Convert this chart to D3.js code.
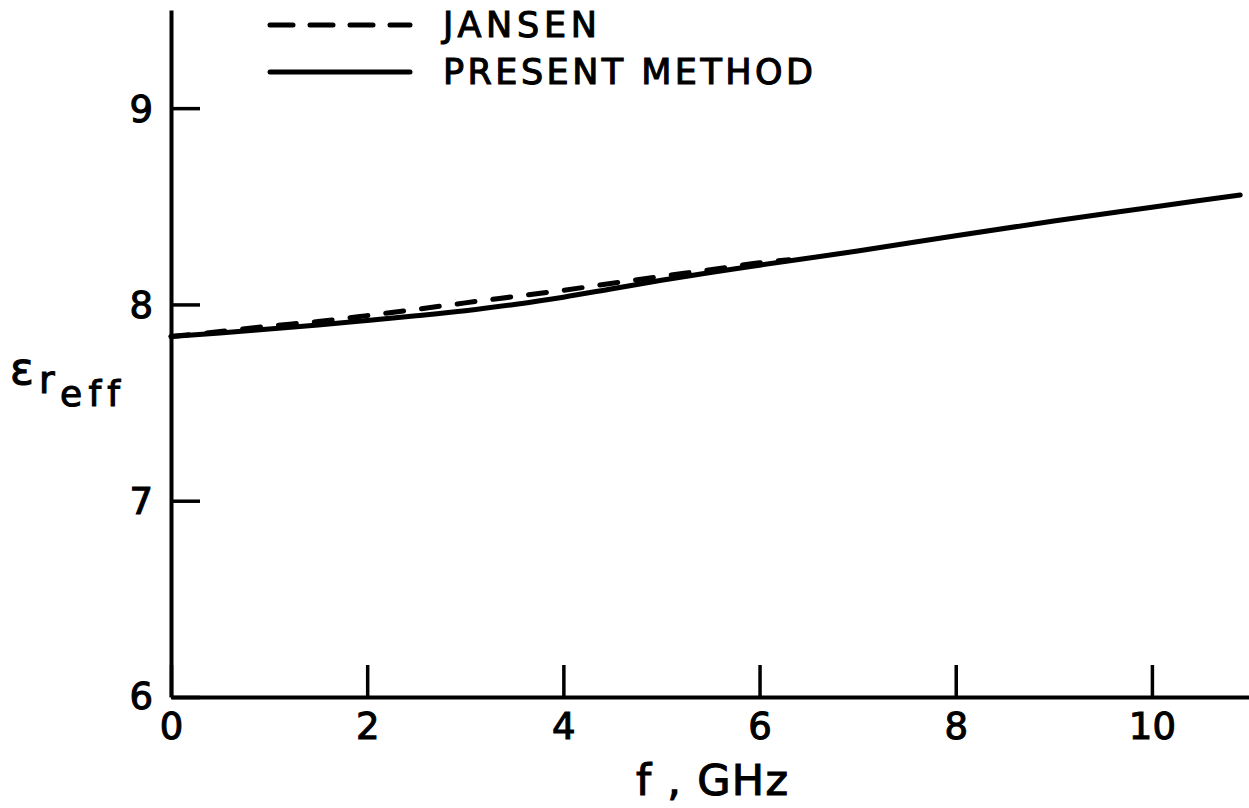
<!DOCTYPE html>
<html>
<head>
<meta charset="utf-8">
<script src="https://cdn.jsdelivr.net/npm/d3@7"></script>
<style>
  html, body { margin: 0; padding: 0; background: #fff; }
  svg text { font-family: "DejaVu Sans", sans-serif; fill: #000; stroke: #000; stroke-width: 1.1px;
             font-variant-ligatures: none; }
</style>
</head>
<body>
<svg id="chart" width="1249" height="808"></svg>
<script>
// values
const freqPresent = [0, 0.5, 1, 1.5, 2, 2.5, 3, 3.5, 4, 4.5, 5, 5.5, 6, 7, 8, 9, 10, 10.9];
const erPresent   = [7.837, 7.855, 7.875, 7.895, 7.918, 7.942, 7.968, 8.000, 8.037, 8.080, 8.123, 8.163, 8.200, 8.272, 8.350, 8.425, 8.495, 8.558];
const freqJansen  = [0, 0.5, 1, 1.5, 2, 2.5, 3, 3.5, 4, 4.5, 5, 5.5, 6, 6.3];
const erJansen    = [7.837, 7.862, 7.890, 7.913, 7.943, 7.975, 8.008, 8.040, 8.072, 8.108, 8.143, 8.177, 8.212, 8.228];
const xTicks = [0, 2, 4, 6, 8, 10];
const yTicks = [6, 7, 8, 9];
const seriesNames = ["JANSEN", "PRESENT METHOD"];

const svg = d3.select('#chart');

// 축 범위
const x = d3.scaleLinear().domain([0, 11]).range([171, 1250]);
const y = d3.scaleLinear().domain([6, 9.5]).range([697, 10]);

// x 축 (tick 은 위쪽으로)
const gx = svg.append('g')
  .attr('class', 'x axis')
  .attr('transform', 'translate(0,' + y(6) + ')')
  .call(d3.axisBottom(x).tickValues(xTicks).tickSizeInner(-32).tickSizeOuter(0).tickPadding(16)
    .tickFormat(d3.format('d')));

// y 축 (tick 은 오른쪽으로)
const gy = svg.append('g')
  .attr('class', 'y axis')
  .attr('transform', 'translate(' + x(0) + ',0)')
  .call(d3.axisLeft(y).tickValues(yTicks).tickSizeInner(-29).tickSizeOuter(0).tickPadding(18)
    .tickFormat(d3.format('d')));

svg.selectAll('g.axis path.domain')
  .attr('stroke', '#000')
  .attr('stroke-width', 4);

svg.selectAll('g.axis g.tick line')
  .attr('stroke', '#000')
  .attr('stroke-width', 3.5);

svg.selectAll('g.axis g.tick text')
  .attr('fill', '#000')
  .style('font-size', '37px');

// "6" 은 원점 왼쪽
gy.selectAll('g.tick text')
  .attr('dy', d => d === 6 ? '0.3em' : '0.35em');

// 그래프 라인
const line = d3.line()
  .x(d => x(d[0]))
  .y(d => y(d[1]))
  .curve(d3.curveMonotoneX);

const jansen = freqJansen.map((f, i) => [f, erJansen[i]]);
const present = freqPresent.map((f, i) => [f, erPresent[i]]);

svg.append('path')
  .datum(jansen)
  .attr('fill', 'none')
  .attr('stroke', '#000')
  .attr('stroke-width', 5)
  .attr('stroke-linecap', 'round')
  .attr('stroke-dasharray', '18 18')
  .attr('d', line);

svg.append('path')
  .datum(present)
  .attr('fill', 'none')
  .attr('stroke', '#000')
  .attr('stroke-width', 5)
  .attr('stroke-linecap', 'round')
  .attr('d', line);

// 범례
const legend = svg.append('g').attr('class', 'legend');
const legendRows = [
  { name: seriesNames[0], dash: '23 17', ly: 25, ty: 37, len: 154 },
  { name: seriesNames[1], dash: null, ly: 72, ty: 84, len: 370 }
];
legendRows.forEach(r => {
  legend.append('line')
    .attr('x1', 270).attr('x2', 410)
    .attr('y1', r.ly).attr('y2', r.ly)
    .attr('stroke', '#000')
    .attr('stroke-width', 5)
    .attr('stroke-linecap', 'round')
    .attr('stroke-dasharray', r.dash);
  legend.append('text')
    .attr('x', 443).attr('y', r.ty)
    .attr('textLength', r.len)
    .attr('lengthAdjust', 'spacing')
    .style('font-size', '35px')
    .text(r.name);
});

// x 축 이름
svg.append('text')
  .attr('x', 636).attr('y', 795)
  .attr('textLength', 152)
  .attr('lengthAdjust', 'spacing')
  .attr('xml:space', 'preserve')
  .style('font-size', '43px')
  .text('f , GHz');

// y 축 이름 (ε r eff)
const yl = svg.append('g').attr('class', 'ylabel');
yl.append('text').attr('x', 10).attr('y', 384).style('font-size', '44px').text('ε');
yl.append('text').attr('x', 39).attr('y', 393).style('font-size', '38px').text('r');
yl.append('text').attr('x', 60).attr('y', 406).attr('textLength', 60).attr('lengthAdjust', 'spacing')
  .style('font-size', '36px').text('eff');
</script>
</body>
</html>
